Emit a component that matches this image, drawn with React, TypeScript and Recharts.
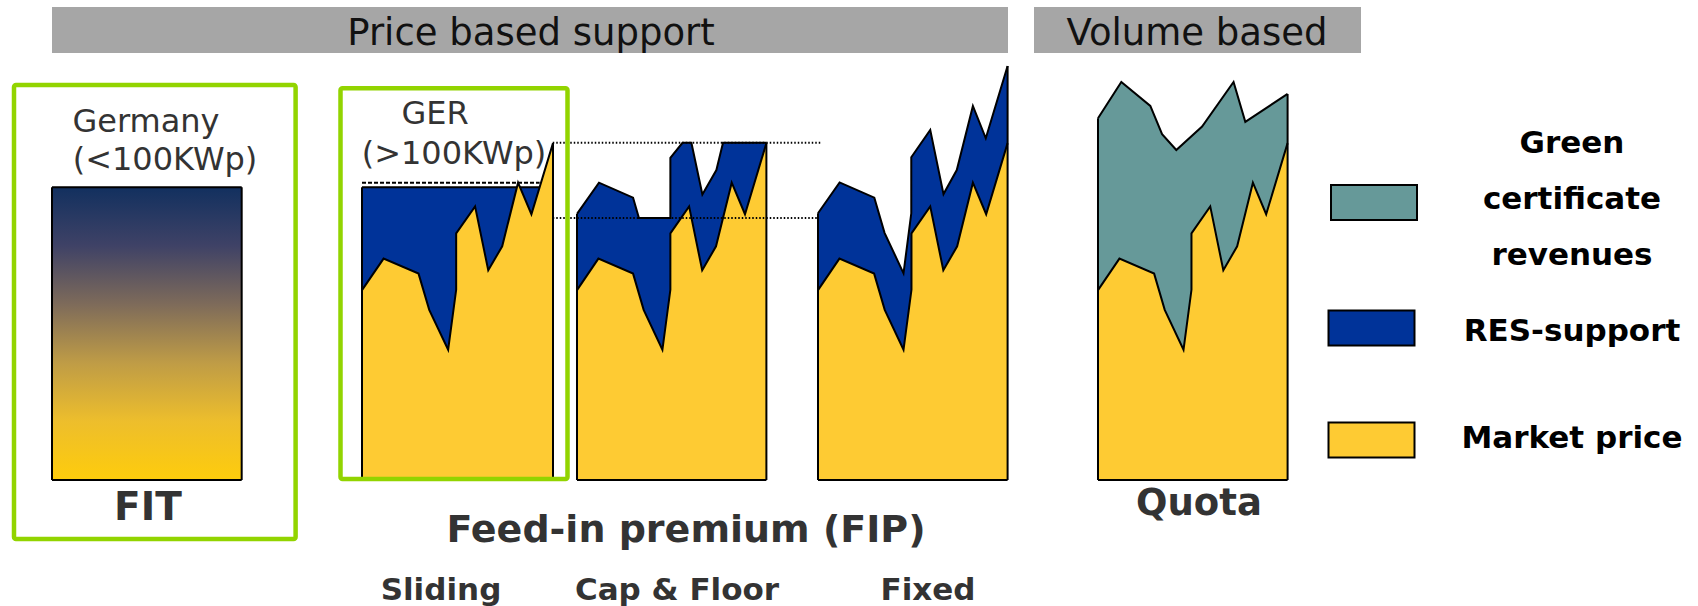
import React from "react"
import { AreaChart, Area, XAxis, YAxis, ReferenceLine } from "recharts"

// Market price path, shared by every premium panel (time runs 0..100)
const marketX = [0, 11.3, 29.6, 35.2, 45.1, 49.3, 49.3, 59.2, 66.1, 73.4, 81.7, 88.7, 100]
const marketPrice = [63.3, 73.8, 68.8, 56.7, 43.4, 63.4, 82.2, 91.2, 69.9, 77.9, 99.1, 88.6, 112.3]

// FIT: flat tariff
const fitX = [0, 100]
const fitTariff = [97.6, 97.6]

// Sliding premium tops the market price up to a fixed level
const slidingX = [0, 100]
const slidingLevel = [97.6, 97.6]
const slidingMax = 99.1

// Cap & floor: premium added on top, clamped between floor and cap
const capFloorX = [0, 11.6, 29.6, 32.7, 49.3, 49.3, 55.7, 60.4, 66.2, 73.6, 77.1, 100]
const capFloorTotal = [88.7, 99.1, 94.1, 87.3, 87.3, 107.4, 112.4, 112.4, 95.2, 103.3, 112.4, 112.4]
const capLevel = 112.4
const floorLevel = 87.3

// Fixed premium on top of the market price
const fixedX = [0, 11.4, 29.7, 35.1, 45.1, 49.2, 49.2, 59.2, 66.2, 73.2, 81.7, 88.5, 100]
const fixedTotal = [88.9, 99.2, 94.1, 82.4, 68.9, 88.9, 107.6, 116.7, 95.3, 103.3, 124.7, 113.9, 138]

// Quota: green certificate revenues on top of the market price
const quotaX = [0, 12.3, 27.6, 33.8, 41.3, 54.9, 71.5, 77.7, 100]
const certificateTotal = [120.6, 132.7, 124.7, 115.3, 110, 117.8, 132.7, 119.4, 128.7]

const legendItems = ["Green certificate revenues", "RES-support", "Market price"]

const YELLOW = "#FECB33"
const BLUE = "#003399"
const TEAL = "#669999"
const LIME = "#92D400"
const FONT = "'DejaVu Sans', Verdana, sans-serif"

const PAD = 6
const PLOT_TOP = 60
const PLOT_H = 420
const Y_MAX = 140

type Row = { x: number; top?: number; market?: number }

function rows(xs: number[], key: "top" | "market", vals: number[]): Row[] {
  return xs.map((x, i) => ({ x, [key]: vals[i] }))
}

interface PanelProps {
  left: number
  width: number
  topX: number[]
  topY: number[]
  fill: string
  withMarket?: boolean
  padLeft?: number
  padRight?: number
  children?: React.ReactNode
}

function Panel({
  left,
  width,
  topX,
  topY,
  fill,
  withMarket = true,
  padLeft = PAD,
  padRight = PAD,
  children,
}: PanelProps) {
  const data = withMarket
    ? [...rows(topX, "top", topY), ...rows(marketX, "market", marketPrice)]
    : rows(topX, "top", topY)
  const leftH = Math.max(topY[0], withMarket ? marketPrice[0] : 0)
  const rightH = Math.max(
    topY[topY.length - 1],
    withMarket ? marketPrice[marketPrice.length - 1] : 0
  )
  const edge = { stroke: "#000", strokeWidth: 2 }

  return (
    <div style={{ position: "absolute", left: left - padLeft, top: PLOT_TOP - PAD }}>
      <AreaChart
        width={width + padLeft + padRight}
        height={PLOT_H + 2 * PAD}
        data={data}
        margin={{ top: PAD, bottom: PAD, left: padLeft, right: padRight }}
      >
        <defs>
          <linearGradient id="fitGradient" x1="0" y1="0" x2="0" y2="1">
            <stop offset="0%" stopColor="#12305F" />
            <stop offset="20%" stopColor="#3F4266" />
            <stop offset="40%" stopColor="#7E6B5A" />
            <stop offset="60%" stopColor="#BF9C46" />
            <stop offset="80%" stopColor="#EDBE2C" />
            <stop offset="100%" stopColor="#FECC0C" />
          </linearGradient>
        </defs>
        <XAxis dataKey="x" type="number" domain={[0, 100]} hide />
        <YAxis type="number" domain={[0, Y_MAX]} hide />
        <Area
          dataKey="top"
          type="linear"
          fill={fill}
          fillOpacity={1}
          stroke="#000"
          strokeWidth={2}
          connectNulls
          dot={false}
          activeDot={false}
          isAnimationActive={false}
        />
        {withMarket && (
          <Area
            dataKey="market"
            type="linear"
            fill={YELLOW}
            fillOpacity={1}
            stroke="#000"
            strokeWidth={2}
            connectNulls
            dot={false}
            activeDot={false}
            isAnimationActive={false}
          />
        )}
        <ReferenceLine segment={[{ x: 0, y: 0 }, { x: 0, y: leftH }]} {...edge} />
        <ReferenceLine segment={[{ x: 100, y: 0 }, { x: 100, y: rightH }]} {...edge} />
        <ReferenceLine segment={[{ x: 0, y: 0 }, { x: 100, y: 0 }]} {...edge} />
        {children}
      </AreaChart>
    </div>
  )
}

function Label({
  x,
  y,
  size,
  bold = false,
  color = "#333",
  children,
}: {
  x: number
  y: number
  size: number
  bold?: boolean
  color?: string
  children: React.ReactNode
}) {
  return (
    <text
      x={x}
      y={y}
      textAnchor="middle"
      fontFamily={FONT}
      fontSize={size}
      fontWeight={bold ? "bold" : "normal"}
      fill={color}
    >
      {children}
    </text>
  )
}

export default function App() {
  // dotted guides for the cap and floor levels
  const guide = {
    stroke: "#000",
    strokeWidth: 2,
    strokeDasharray: "1.5 2",
    ifOverflow: "visible" as const,
  }
  const certificateLines = legendItems[0].split(" ")

  return (
    <div style={{ position: "absolute", left: 0, top: 0, width: 1698, height: 606, background: "#fff" }}>
      <svg width={1698} height={606} style={{ position: "absolute", left: 0, top: 0 }}>
        <rect x={52} y={7} width={956} height={46} fill="#A6A6A6" />
        <rect x={1034} y={7} width={327} height={46} fill="#A6A6A6" />
        <Label x={531} y={45} size={37} color="#111">Price based support</Label>
        <Label x={1197} y={45} size={37} color="#111">Volume based</Label>

        <Label x={146} y={131.5} size={32}>Germany</Label>
        <Label x={165} y={170} size={32}>{"(<100KWp)"}</Label>
        <Label x={435} y={123.5} size={32}>GER</Label>
        <Label x={454} y={163.5} size={32}>{"(>100KWp)"}</Label>

        <Label x={148} y={520} size={39} bold>FIT</Label>
        <Label x={1199} y={515} size={37} bold>Quota</Label>
        <Label x={686} y={541.5} size={38} bold>Feed-in premium (FIP)</Label>
        <Label x={441} y={600} size={31} bold>Sliding</Label>
        <Label x={677} y={600} size={31} bold>Cap &amp; Floor</Label>
        <Label x={928} y={600} size={31} bold>Fixed</Label>

        <rect x={1331} y={185} width={86} height={35} fill={TEAL} stroke="#000" strokeWidth={2} />
        <rect x={1328.5} y={310.5} width={86} height={35} fill={BLUE} stroke="#000" strokeWidth={2} />
        <rect x={1328.5} y={422.5} width={86} height={35} fill={YELLOW} stroke="#000" strokeWidth={2} />
        {certificateLines.map((word, i) => (
          <Label key={word} x={1572} y={153 + i * 56} size={31} bold color="#000">
            {word}
          </Label>
        ))}
        <Label x={1572} y={340.5} size={31} bold color="#000">{legendItems[1]}</Label>
        <Label x={1572} y={448} size={31} bold color="#000">{legendItems[2]}</Label>
      </svg>

      <Panel left={52.3} width={189.7} topX={fitX} topY={fitTariff} fill="url(#fitGradient)" withMarket={false} />

      <Panel left={361.7} width={191} topX={slidingX} topY={slidingLevel} fill={BLUE}>
        <ReferenceLine
          segment={[{ x: 0, y: slidingMax }, { x: 93, y: slidingMax }]}
          stroke="#000"
          strokeWidth={2}
          strokeDasharray="4 2"
        />
      </Panel>

      <Panel
        left={577.3}
        width={189.4}
        topX={capFloorX}
        topY={capFloorTotal}
        fill={BLUE}
        padLeft={32}
        padRight={62}
      >
        <ReferenceLine segment={[{ x: -12.8, y: capLevel }, { x: 128.7, y: capLevel }]} {...guide} />
        <ReferenceLine segment={[{ x: -12.8, y: floorLevel }, { x: 127.1, y: floorLevel }]} {...guide} />
      </Panel>

      <Panel left={817.7} width={189.6} topX={fixedX} topY={fixedTotal} fill={BLUE} />

      <Panel left={1097.7} width={189.6} topX={quotaX} topY={certificateTotal} fill={TEAL} />

      <svg
        width={1698}
        height={606}
        style={{ position: "absolute", left: 0, top: 0, pointerEvents: "none" }}
      >
        <rect x={14} y={85} width={281.6} height={454} rx={2} fill="none" stroke={LIME} strokeWidth={4.5} />
        <rect x={340.5} y={88.3} width={227} height={390.7} rx={2} fill="none" stroke={LIME} strokeWidth={4.5} />
      </svg>
    </div>
  )
}
